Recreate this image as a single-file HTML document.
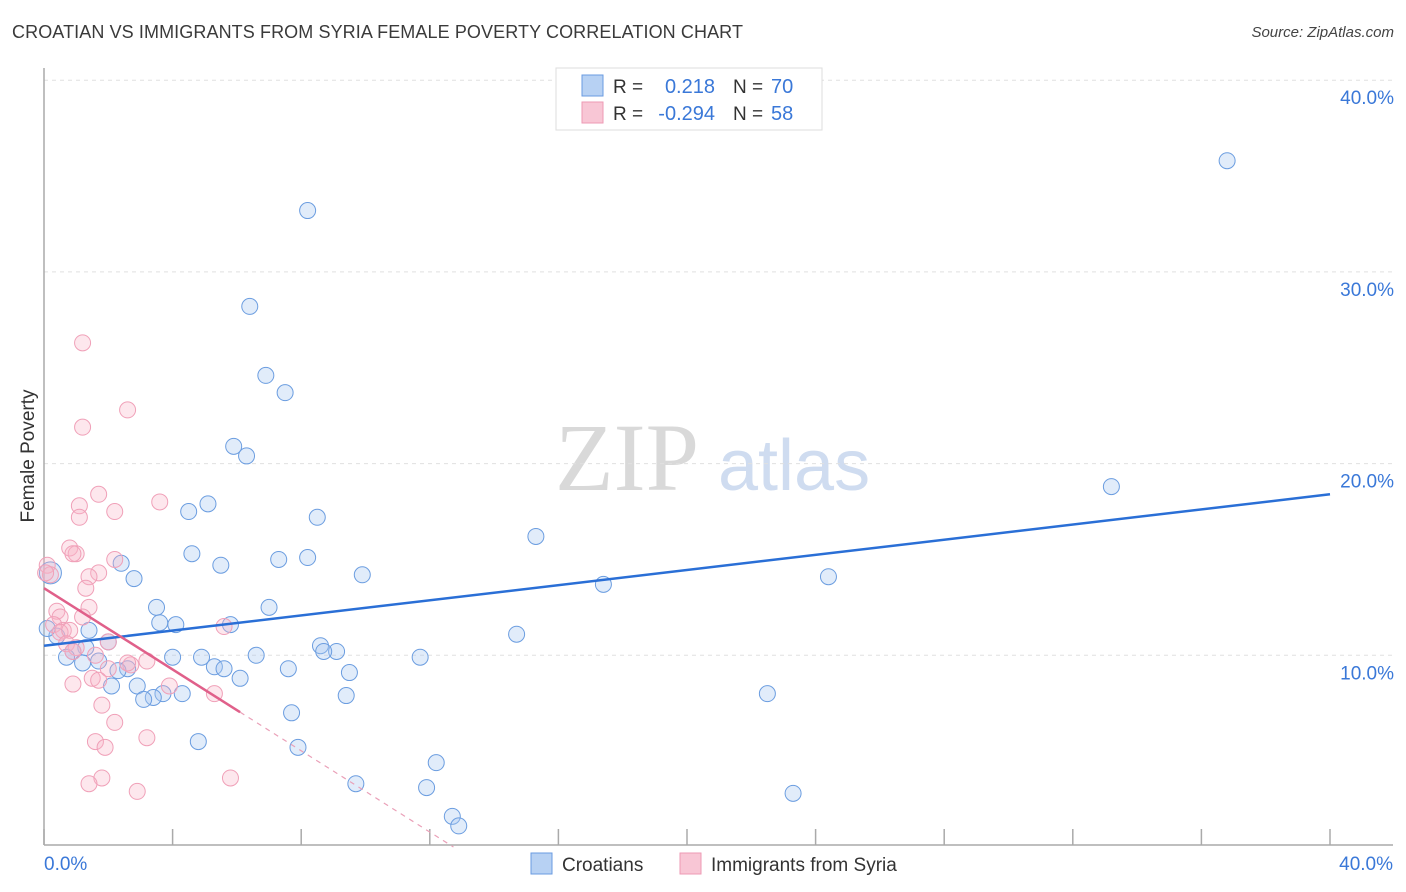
<!DOCTYPE html>
<html><head><meta charset="utf-8"><style>
body{margin:0;background:#fff;font-family:"Liberation Sans",sans-serif}
#wrap{position:relative;width:1406px;height:892px;overflow:hidden}
</style></head><body>
<div id="wrap">
<div style="position:absolute;left:12px;top:22px;font-size:18px;color:#3a3a3a;letter-spacing:0.1px">CROATIAN VS IMMIGRANTS FROM SYRIA FEMALE POVERTY CORRELATION CHART</div>
<div style="position:absolute;right:12px;top:24px;font-size:15px;color:#444;font-style:italic">Source: ZipAtlas.com</div>
<svg id="svg" width="1406" height="892" style="position:absolute;left:0;top:0"></svg>
</div>
<script>
const xTickLabels=["0.0%","40.0%"];
const yTickValues=[10,20,30,40];
const yTickLabels=["10.0%","20.0%","30.0%","40.0%"];
const croatX=[36.8,8.2,6.4,6.9,7.5,5.9,6.3,33.2,5.1,4.5,8.5,15.3,4.6,8.2,7.3,2.4,5.5,2.8,9.9,24.4,17.4,3.5,7.0,3.6,4.1,5.8,1.4,14.7,8.6,9.1,8.7,2.0,0.4,1.3,0.9,0.7,11.7,4.0,4.9,6.6,1.7,1.2,5.3,5.6,7.6,9.5,2.6,2.3,6.1,2.1,2.9,3.7,4.3,3.4,3.1,9.4,22.5,7.7,4.8,7.9,12.2,9.7,11.9,23.3,12.7,12.9,0.2,0.1];
const croatY=[35.8,33.2,28.2,24.6,23.7,20.9,20.4,18.8,17.9,17.5,17.2,16.2,15.3,15.1,15.0,14.8,14.7,14.0,14.2,14.1,13.7,12.5,12.5,11.7,11.6,11.6,11.3,11.1,10.5,10.2,10.2,10.7,11.0,10.4,10.2,9.9,9.9,9.9,9.9,10.0,9.7,9.6,9.4,9.3,9.3,9.1,9.3,9.2,8.8,8.4,8.4,8.0,8.0,7.8,7.7,7.9,8.0,7.0,5.5,5.2,4.4,3.3,3.1,2.8,1.6,1.1,14.3,11.4];
const syriaX=[1.2,2.6,1.2,1.7,3.6,1.1,2.2,1.1,0.8,1.0,0.9,2.2,1.7,1.4,0.1,0.2,0.05,1.3,0.4,0.5,1.4,1.2,0.3,0.6,0.5,0.8,0.7,1.0,0.9,2.0,5.6,1.6,3.2,2.7,2.0,1.5,1.7,0.9,3.9,5.3,1.8,2.2,1.6,3.2,1.9,1.8,1.4,5.8,2.9,2.6];
const syriaY=[26.3,22.8,21.9,18.4,18.0,17.8,17.5,17.2,15.6,15.3,15.3,15.0,14.3,14.1,14.7,14.2,14.3,13.5,12.3,12.0,12.5,12.0,11.6,11.3,11.2,11.3,10.6,10.4,10.2,10.7,11.5,10.0,9.7,9.5,9.3,8.8,8.7,8.5,8.4,8.0,7.4,6.5,5.5,5.7,5.2,3.6,3.3,3.6,2.9,9.6];
const croatLine=[10.5,18.4];
const syriaLine=[13.5,-1.06];
const syriaSolidEnd=6.1;

const NS="http://www.w3.org/2000/svg";
const svg=document.getElementById('svg');
const X0=44,X1=1330,Y0=847,PY=19.17;
const sx=v=>X0+(v/40)*(X1-X0);
const sy=v=>Y0-v*PY;
function el(t,a,p){const e=document.createElementNS(NS,t);for(const k in a)e.setAttribute(k,a[k]);(p||svg).appendChild(e);return e;}

const wm1=el('text',{x:555,y:490,'font-family':'Liberation Serif,serif','font-size':96,fill:'#d9d9d9'});wm1.textContent='ZIP';


const wm2=el('text',{x:718,y:490,'font-family':'Liberation Sans,sans-serif','font-size':72,fill:'#cfdcf0'});wm2.textContent='atlas';



yTickValues.forEach((v,i)=>{
  const g=el('line',{x1:X0,x2:1393,y1:sy(v),y2:sy(v),stroke:'#e0e0e0','stroke-dasharray':'4,4'});
  
  
  const t=el('text',{x:1394,y:sy(v)+24,'text-anchor':'end','font-size':19,fill:'#3a78d8'});
  t.textContent=yTickLabels[i];
  
  
});
const ya=el('line',{x1:X0,x2:X0,y1:68,y2:845,stroke:'#aaa','stroke-width':1.5});


const xa=el('line',{x1:X0,x2:1393,y1:845,y2:845,stroke:'#aaa','stroke-width':1.5});


for(let i=0;i<=10;i++){const tk=el('line',{x1:sx(i*4),x2:sx(i*4),y1:829,y2:845,stroke:'#aaa','stroke-width':1.5});

}
const xl0=el('text',{x:44,y:870,'font-size':19,fill:'#3a78d8'});xl0.textContent=xTickLabels[0];


const xl1=el('text',{x:1393,y:870,'text-anchor':'end','font-size':19,fill:'#3a78d8'});xl1.textContent=xTickLabels[1];


const yt=el('text',{x:34,y:456,'text-anchor':'middle','font-size':19,fill:'#333',transform:'rotate(-90 34 456)'});yt.textContent='Female Poverty';



croatX.forEach((x,i)=>{const c=el('circle',{cx:sx(x),cy:sy(croatY[i]),r:(i===66?11:8),fill:'rgba(170,200,240,0.35)',stroke:'#6b9de0','stroke-width':1});

});
syriaX.forEach((x,i)=>{const c=el('circle',{cx:sx(x),cy:sy(syriaY[i]),r:8,fill:'rgba(248,180,200,0.32)',stroke:'#f0a0b8','stroke-width':1});

});

const bl=el('line',{x1:sx(0),y1:sy(croatLine[0]),x2:sx(40),y2:sy(croatLine[1]),stroke:'#2a6fd6','stroke-width':2.5});


const sf=x=>syriaLine[0]+syriaLine[1]*x;
const pl=el('line',{x1:sx(0),y1:sy(sf(0)),x2:sx(syriaSolidEnd),y2:sy(sf(syriaSolidEnd)),stroke:'#e0608a','stroke-width':2.5});


const xz=-syriaLine[0]/syriaLine[1];
const pd=el('line',{x1:sx(syriaSolidEnd),y1:sy(sf(syriaSolidEnd)),x2:sx(xz),y2:sy(0),stroke:'#eaa0b8','stroke-width':1.2,'stroke-dasharray':'5,5'});



const lg=el('rect',{x:556,y:68,width:266,height:62,fill:'#fff',stroke:'#ddd'});


function row(y,fill,stroke,r,n,nm){
  const s=el('rect',{x:582,y:y-11,width:21,height:21,fill:fill,stroke:stroke});
  
  
  const a=el('text',{x:613,y:y+7,'font-size':19,fill:'#333'});a.textContent='R =';
  
  
  const b=el('text',{x:715,y:y+7,'font-size':20,fill:'#3a78d8','text-anchor':'end'});b.textContent=r;
  
  
  const c=el('text',{x:733,y:y+7,'font-size':19,fill:'#333'});c.textContent='N =';
  
  
  const d=el('text',{x:771,y:y+7,'font-size':20,fill:'#3a78d8'});d.textContent=n;
  
  
}
row(86,'#b7d1f3','#6a9be0','0.218','70','croatian');
row(113,'#f8c6d5','#ee9ab4','-0.294','58','syria');
const b1=el('rect',{x:531,y:853,width:21,height:21,fill:'#b7d1f3',stroke:'#6a9be0'});


const t1=el('text',{x:562,y:871,'font-size':19,fill:'#333'});t1.textContent='Croatians';


const b2=el('rect',{x:680,y:853,width:21,height:21,fill:'#f8c6d5',stroke:'#ee9ab4'});


const t2=el('text',{x:711,y:871,'font-size':19,fill:'#333'});t2.textContent='Immigrants from Syria';


</script>
</body></html>
